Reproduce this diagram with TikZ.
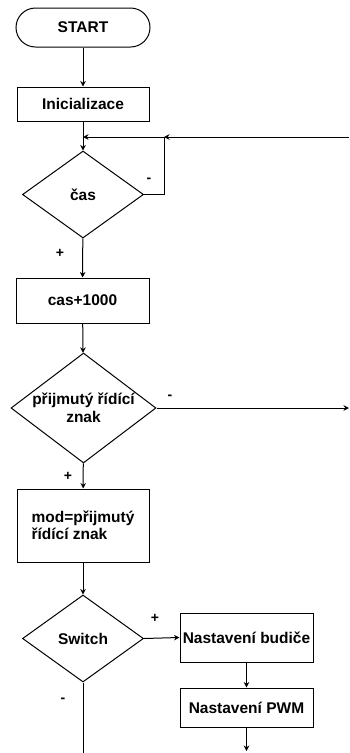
\documentclass[tikz,border=0pt]{standalone}
\usepackage{fontspec}
\setmainfont{Liberation Sans}
\usetikzlibrary{shapes.geometric,shapes.misc,arrows.meta}
\begin{document}
\begin{tikzpicture}[x=1pt,y=-1pt,
  font=\fontsize{15.5}{17.5}\selectfont\bfseries,
  line width=1pt,
  box/.style={draw,rectangle,inner sep=0pt},
  term/.style={draw,rounded rectangle,inner sep=0pt},
  decision/.style={draw,diamond,inner sep=0pt,align=center},
  arr/.style={-{Stealth[length=5.5pt,width=5.5pt]}},
  lbl/.style={font=\fontsize{14}{16}\selectfont\bfseries,inner sep=0pt}]
\useasboundingbox (0,0) rectangle (349,753);

% process steps
\node[term,minimum width=134pt,minimum height=39pt] (start) at (83,27.5) {START};
\node[box,minimum width=132pt,minimum height=34pt] (init) at (83,104) {Inicializace};
\node[decision,minimum width=121pt,minimum height=87pt,aspect=1.39] (cas) at (83,194.5) {čas};
\node[box,minimum width=133pt,minimum height=45pt] (inc) at (82.5,300.5) {cas+1000};
\node[decision,minimum width=145pt,minimum height=110pt,aspect=1.318] (prij) at (83.5,408) {přijmutý řídící\\znak};
\node[box,minimum width=132pt,minimum height=73pt,align=left] (mod) at (83,525.5) {mod=přijmutý\\řídící znak};
\node[decision,minimum width=121pt,minimum height=87pt,aspect=1.39] (sw) at (83,638.5) {Switch};
\node[box,minimum width=133pt,minimum height=49pt] (bud) at (246.5,637.5) {Nastavení budiče};
\node[box,minimum width=133pt,minimum height=39pt] (pwm) at (246.5,707.5) {Nastavení PWM};

% junction points of the waiting loop
\coordinate (j1) at (83,137);
\coordinate (j2) at (164,137);
\coordinate (inR) at (349,137);
\coordinate (outR) at (349,408);
\coordinate (swOut) at (83,753);
\coordinate (pwmOut) at (246.5,751);

% connectors
\draw[arr] (start) -- (init);
\draw[arr] (init) -- (cas);
\draw (cas.east) -| (j2);
\draw[arr] (inR) -- (j2);
\draw[arr] (j2) -- (j1);
\draw[arr] (cas) -- (inc);
\draw[arr] (inc) -- (prij);
\draw[arr] (prij.east) -- (outR);
\draw[arr] (prij) -- (mod);
\draw[arr] (mod) -- (sw);
\draw[arr] (sw.east) -- (bud.west);
\draw[arr] (bud) -- (pwm);
\draw[arr] (pwm) -- (pwmOut);
\draw (sw.south) -- (swOut);

% branch labels
\node[lbl] at (149,180) {-};
\node[lbl] at (60,253) {+};
\node[lbl] at (170,397) {-};
\node[lbl] at (68,476) {+};
\node[lbl] at (155,618) {+};
\node[lbl] at (63,700) {-};
\end{tikzpicture}
\end{document}
